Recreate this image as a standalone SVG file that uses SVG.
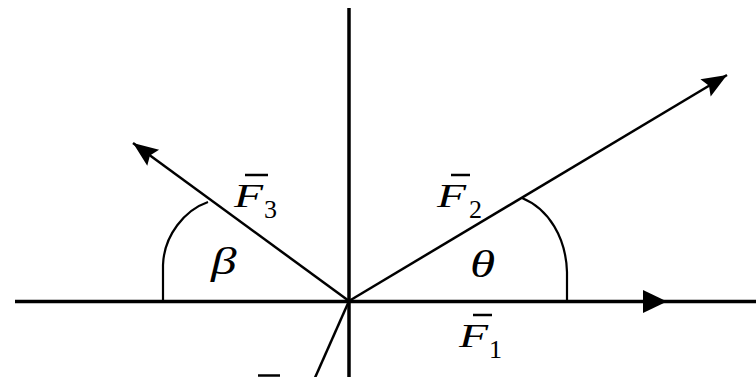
<svg xmlns="http://www.w3.org/2000/svg" width="756" height="377" viewBox="0 0 756 377">
<style>
.ax{stroke:#000;stroke-width:3.5;fill:none}
.vec{stroke:#000;stroke-width:2.5;fill:none}
.arc{stroke:#000;stroke-width:2.2;fill:none}
.bar{stroke:#000;stroke-width:2.5}
.sym{font-family:"Liberation Serif",serif;font-style:italic;font-size:34px;fill:#000}
.greek{font-family:"Liberation Serif",serif;font-style:italic;font-size:38px;fill:#000}
.sub{font-family:"Liberation Serif",serif;font-size:26px;fill:#000}
</style>
<defs>
<marker id="ah" markerUnits="userSpaceOnUse" markerWidth="30" markerHeight="24" viewBox="-26 -12 30 24" refX="0" refY="0" orient="auto">
<path d="M0,0 L-25,-10 L-21,0 L-25,10 Z" fill="#000"/>
</marker>
</defs>
<rect width="756" height="377" fill="#fff"/>
<g id="connectors">
<line id="y-axis" class="ax" x1="349" y1="8" x2="349" y2="377"/>
<line id="x-axis" class="ax" x1="15" y1="301.5" x2="756" y2="301.5"/>
<path id="x-arrow" d="M667,301.5 L643,290 L643,313 Z" fill="#000"/>
<line id="F2-vec" class="vec" x1="349" y1="301" x2="727" y2="75" marker-end="url(#ah)"/>
<line id="F3-vec" class="vec" x1="349" y1="301" x2="133" y2="143" marker-end="url(#ah)"/>
<line id="F4-vec" class="vec" x1="349" y1="301" x2="314" y2="380"/>
<path id="theta-arc" class="arc" d="M567,301 L567,272 C566,238 549,209 522,198"/>
<path id="beta-arc" class="arc" d="M163,301 L163,265 C164,235 185,210 208,202"/>
</g>
<g id="F1-label">
<line class="bar" x1="473" y1="315" x2="492" y2="315"/>
<text class="sym" transform="translate(459,347) scale(1.4,1)">F</text>
<text class="sub" x="489" y="358">1</text>
</g>
<g id="F2-label">
<line class="bar" x1="451" y1="175" x2="470" y2="175"/>
<text class="sym" transform="translate(437,207) scale(1.4,1)">F</text>
<text class="sub" x="469" y="218">2</text>
</g>
<g id="F3-label">
<line class="bar" x1="245" y1="175" x2="268" y2="175"/>
<text class="sym" transform="translate(234,207) scale(1.4,1)">F</text>
<text class="sub" x="264" y="218">3</text>
</g>
<g id="F4-label">
<line class="bar" x1="258" y1="375.5" x2="280" y2="375.5"/>
</g>
<g id="theta-label">
<text class="greek" transform="translate(470,277) scale(1.35,1)">θ</text>
</g>
<g id="beta-label">
<text class="greek" transform="translate(211,274) scale(1.35,1)">β</text>
</g>
</svg>
